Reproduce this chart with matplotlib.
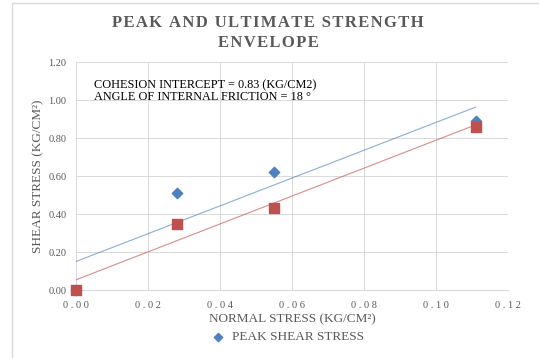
import numpy as np
import matplotlib
matplotlib.use("Agg")
import matplotlib.pyplot as plt
from matplotlib.patches import Rectangle

# data
normal_stress = [0.0, 0.028, 0.055, 0.111]
peak_shear = [0.0, 0.51, 0.62, 0.89]
ultimate_shear = [0.0, 0.35, 0.43, 0.86]

x_ticks = [0.00, 0.02, 0.04, 0.06, 0.08, 0.10, 0.12]
y_ticks = [0.00, 0.20, 0.40, 0.60, 0.80, 1.00, 1.20]

blue = "#4F81BD"
red = "#C0504D"
grey = "#595959"

plt.rcParams['font.family'] = ['Liberation Serif', 'DejaVu Serif']


def spaced(s, sep=" "):
    return sep.join(s)


fig = plt.figure(figsize=(5.39, 3.58), dpi=100)
ax = fig.add_axes([76/539, 1-290/358, 432/539, 228/358])

# chart frame (cropped at right and bottom)
fig.patches.append(Rectangle((12/539, -0.1), 1.2, 1-3/358+0.1, transform=fig.transFigure,
                             fill=False, edgecolor="#D9D9D9", linewidth=1.0))

ax.scatter(normal_stress, peak_shear, marker="D", s=28, color=blue, zorder=3,
           label="PEAK SHEAR STRESS", clip_on=False)
ax.scatter(normal_stress, ultimate_shear, marker="s", s=50, color=red, zorder=4,
           clip_on=False)

# linear trendlines
xs = np.array([min(normal_stress), max(normal_stress)])
m1, b1 = np.polyfit(normal_stress, peak_shear, 1)
m2, b2 = np.polyfit(normal_stress, ultimate_shear, 1)
ax.plot(xs, m1*xs + b1, color=blue, linewidth=0.8, alpha=0.65, zorder=2)
ax.plot(xs, m2*xs + b2, color=red, linewidth=0.8, alpha=0.65, zorder=2)

ax.set_xlim(0, 0.12)
ax.set_ylim(0, 1.2)
ax.set_xticks(x_ticks)
ax.set_yticks(y_ticks)
ax.set_xticklabels([spaced("%.2f" % v) for v in x_ticks])
ax.set_yticklabels(["%.2f" % v for v in y_ticks])
ax.tick_params(length=0, labelsize=7.5, colors=grey, pad=7)
ax.tick_params(axis="x", pad=8)
ax.grid(True, color="#D9D9D9", linewidth=0.7)
ax.set_axisbelow(True)
for sp in ax.spines.values():
    sp.set_visible(False)
ax.spines["bottom"].set_visible(True)
ax.spines["bottom"].set_color("#D9D9D9")

ax.set_xlabel("NORMAL STRESS (KG/CM\u00b2)", fontsize=9.5, color=grey, labelpad=2)
ax.set_ylabel("SHEAR STRESS (KG/CM\u00b2)", fontsize=9.5, color=grey, labelpad=3)

fig.text(268/539, 1-23/358, spaced("PEAK AND ULTIMATE STRENGTH", "\u200a"),
         ha="center", va="center", fontsize=12, fontweight="bold", color=grey)
fig.text(268/539, 1-43/358, spaced("ENVELOPE", "\u200a"),
         ha="center", va="center", fontsize=12, fontweight="bold", color=grey)

ax.text(0.042, 0.925, "COHESION INTERCEPT = 0.83 (KG/CM2)\nANGLE OF INTERNAL FRICTION = 18 \u00b0",
        transform=ax.transAxes, ha="left", va="top", fontsize=8.8, color="black",
        linespacing=1.0)

fig.legend(loc="center left", bbox_to_anchor=(203/539, 1-337/358), frameon=False,
           fontsize=9.5, labelcolor=grey, handletextpad=0.3, markerscale=0.8,
           borderaxespad=0, handlelength=1.5)

fig.savefig("out.png", dpi=100)
